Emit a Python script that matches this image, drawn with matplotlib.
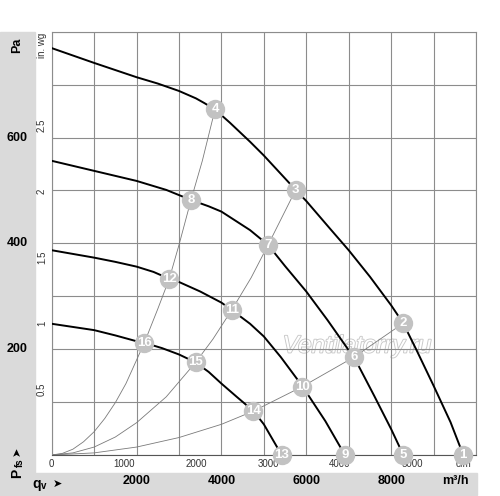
import matplotlib
matplotlib.use('Agg')
import matplotlib.pyplot as plt
from matplotlib.patches import Rectangle
import matplotlib.patheffects as pe

plt.rcParams['font.family'] = ['Liberation Sans', 'DejaVu Sans']

# fan curves, airflow in m3/h, static pressure in Pa
fan1_q = [0, 1000, 2000, 2500, 3000, 3400, 3600, 3849, 4200, 4675, 5000, 5750, 6000, 6557, 7000, 7500,
          8000, 8285, 8600, 9000, 9400, 9700]
fan1_p = [769, 741, 714, 702, 688, 674, 665, 653, 628, 592, 566, 501, 480, 428, 387, 337,
          283, 249, 198, 131, 62, 0]
fan2_q = [0, 1000, 2000, 2700, 3283, 3700, 4000, 4675, 5100, 5500, 6000, 6500, 7000, 7125, 7600, 8000, 8287]
fan2_p = [556, 537, 518, 501, 482, 470, 460, 425, 397, 357, 309, 255, 198, 185, 112, 49, 0]
fan3_q = [0, 1000, 1500, 2000, 2400, 2771, 3000, 3500, 4000, 4243, 4675, 5000, 5400, 5900, 6450, 6910]
fan3_p = [387, 373, 365, 356, 346, 333, 327, 309, 288, 274, 248, 224, 185, 131, 64, 0]
fan4_q = [0, 1000, 1500, 2000, 2183, 2600, 3000, 3392, 3700, 4000, 4360, 4756, 5000, 5420]
fan4_p = [248, 236, 226, 215, 212, 202, 190, 175, 157, 135, 110, 83, 58, 0]

# system curves (thin grey)
sysA_q = [0, 250, 500, 750, 1000, 1250, 1500, 1750, 2183, 2500, 2771, 3000, 3283, 3550, 3849]
sysA_p = [0, 3, 11, 25, 44, 69, 99, 135, 212, 276, 333, 397, 482, 556, 653]
sysB_q = [0, 500, 1000, 1500, 2000, 2700, 3392, 3800, 4243, 4700, 5100, 5750]
sysB_p = [0, 4, 15, 34, 61, 110, 175, 219, 274, 335, 397, 501]
sysC_q = [0, 1000, 2000, 3000, 4000, 4756, 5900, 7125, 8285]
sysC_p = [0, 4, 15, 33, 58, 83, 129, 185, 249]

# numbered operating points
pt_num = [1, 2, 3, 4, 5, 6, 7, 8, 9, 10, 11, 12, 13, 14, 15, 16]
pt_q = [9700, 8285, 5750, 3849, 8287, 7125, 5100, 3283, 6910, 5900, 4243, 2771, 5420, 4756, 3392, 2183]
pt_p = [0, 249, 501, 653, 0, 185, 397, 482, 0, 129, 274, 333, 0, 83, 175, 212]

m3h_labels = [2000, 4000, 6000, 8000]
cfm_labels = [0, 1000, 2000, 3000, 4000, 5000]
pa_labels = [200, 400, 600]
inwg_labels = [0.5, 1, 1.5, 2, 2.5]
CFM = 1.699     # m3/h per cfm
INWG = 249.09   # Pa per in. wg

W, H = 500, 496
fig = plt.figure(figsize=(W / 100, H / 100), dpi=100)

def fx(x):
    return x / W

def fy(y):
    return 1 - y / H

# grey frame bands
band = '#dadada'
fig.patches.append(Rectangle((0, 0), fx(35), fy(31.7), transform=fig.transFigure, color=band, zorder=-5))
fig.patches.append(Rectangle((0, 1 - 495 / H), fx(476.7), (495 - 473) / H, transform=fig.transFigure,
                             color=band, zorder=-5))

x0, x1, ytop, ybot = 51.7, 476.0, 31.7, 455.0
ax = fig.add_axes([fx(x0), fy(ybot), (x1 - x0) / W, (ybot - ytop) / H])
ax.set_xlim(0, 10000)
ax.set_ylim(0, 800)
ax.set_xticks(range(0, 10001, 1000))
ax.set_yticks(range(0, 801, 100))
ax.tick_params(length=0, labelbottom=False, labelleft=False)
ax.grid(True, color='#8c8c8c', linewidth=0.8)
for s in ax.spines.values():
    s.set_color('#8c8c8c')
    s.set_linewidth(0.8)
ax.spines['bottom'].set_color('#555555')

def ax_x(px):
    return (px - x0) / (x1 - x0)

def ax_y(py):
    return (ybot - py) / (ybot - ytop)

# watermark
ax.text(ax_x(357), ax_y(346), 'Ventilatorry.ru', ha='center', va='center', fontsize=17.5,
        style='italic', color='white', zorder=1,
        path_effects=[pe.withStroke(linewidth=1.3, foreground='#c8c8c8')], transform=ax.transAxes)

for q, p in [(sysA_q, sysA_p), (sysB_q, sysB_p), (sysC_q, sysC_p)]:
    ax.plot(q, p, color='#7a7a7a', linewidth=0.6, zorder=2)
for q, p in [(fan1_q, fan1_p), (fan2_q, fan2_p), (fan3_q, fan3_p), (fan4_q, fan4_p)]:
    ax.plot(q, p, color='black', linewidth=1.4, zorder=3, solid_joinstyle='round')

ax.scatter(pt_q, pt_p, s=195, color='#c2c2c2', zorder=4, clip_on=False, linewidths=0)
for n, q, p in zip(pt_num, pt_q, pt_p):
    ax.text(q, p, str(n), ha='center', va='center', color='white', fontsize=9.5,
            fontweight='bold', zorder=5, clip_on=False)

xt = ax.get_xaxis_transform()
yt = ax.get_yaxis_transform()

for v in m3h_labels:
    ax.text(v, ax_y(481), str(v), transform=xt, ha='center', va='center', fontsize=9, fontweight='bold')
ax.text(ax_x(455), ax_y(481), 'm³/h', transform=ax.transAxes, ha='center', va='center', fontsize=9,
        fontweight='bold')
for v in cfm_labels:
    ax.text(v * CFM, ax_y(464), str(v), transform=xt, ha='center', va='center', fontsize=7, color='#333333')
ax.text(ax_x(463), ax_y(464), 'cfm', transform=ax.transAxes, ha='center', va='center', fontsize=7,
        color='#333333')

for v in pa_labels:
    ax.text(ax_x(17), v, str(v), transform=yt, ha='center', va='center', fontsize=9, fontweight='bold')
for v in inwg_labels:
    ax.text(ax_x(42), v * INWG, f'{v:g}', transform=yt, ha='center', va='center', fontsize=7,
            rotation=90, color='#333333')
ax.text(ax_x(42), ax_y(33), 'in. wg', transform=ax.transAxes, ha='center', va='top', fontsize=7,
        rotation=90, color='#333333')

# axis names in the grey bands
fig.text(fx(17), fy(45), 'Pa', ha='center', va='center', rotation=90, fontsize=9, fontweight='bold')
fig.text(fx(17), fy(473), 'P', ha='center', va='center', rotation=90, fontsize=10, fontweight='bold')
fig.text(fx(19.5), fy(463), 'fs', ha='center', va='center', rotation=90, fontsize=7, fontweight='bold')
fig.text(fx(17), fy(451), '➤', ha='center', va='center', rotation=90, fontsize=8, family=['DejaVu Sans'])
fig.text(fx(37), fy(484), 'q', ha='center', va='center', fontsize=10, fontweight='bold')
fig.text(fx(44), fy(486), 'v', ha='center', va='center', fontsize=7, fontweight='bold')
fig.text(fx(57), fy(484), '➤', ha='center', va='center', fontsize=8, family=['DejaVu Sans'])

fig.savefig('out.png', dpi=100)
